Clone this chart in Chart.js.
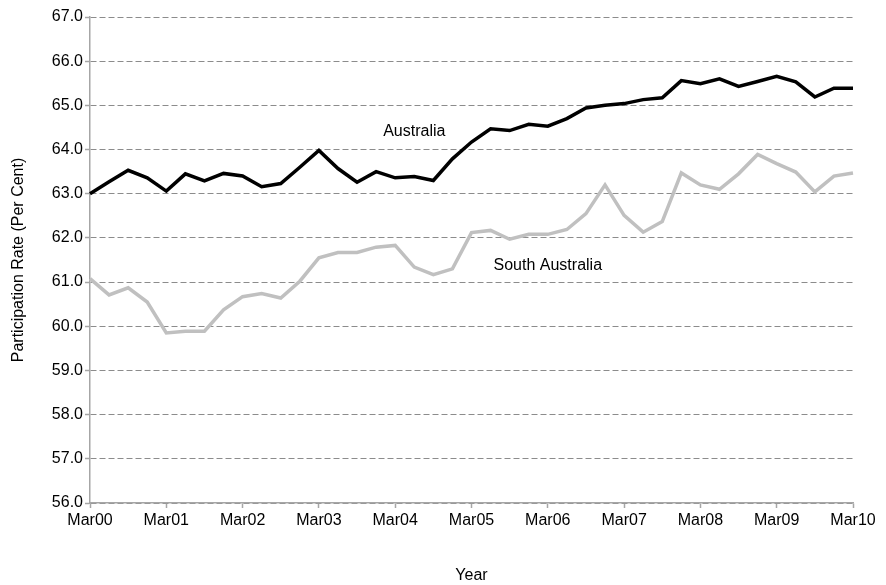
<!DOCTYPE html>
<html>
<head>
<meta charset="utf-8">
<script src="https://cdn.jsdelivr.net/npm/chart.js@4/dist/chart.umd.min.js"></script>
<style>
  html, body { margin: 0; padding: 0; background: #ffffff; }
  #wrap { width: 886px; height: 585px; position: relative; }
</style>
</head>
<body>
<div id="wrap"><canvas id="c" width="886" height="585"></canvas></div>
<script>
// ---- data ----
const years = ['00','01','02','03','04','05','06','07','08','09','10'];
const quarters = ['Mar','Jun','Sep','Dec'];
const categories = [];
years.forEach(y => quarters.forEach(q => { if (!(y === '10' && q !== 'Mar')) categories.push(q + y); }));

const australia = [
  63.00, 63.27, 63.53, 63.36, 63.06, 63.45, 63.29, 63.46, 63.40, 63.16,
  63.23, 63.60, 63.98, 63.57, 63.26, 63.50, 63.36, 63.39, 63.30, 63.79,
  64.17, 64.47, 64.43, 64.57, 64.53, 64.70, 64.94, 65.00, 65.04, 65.13,
  65.17, 65.56, 65.49, 65.60, 65.43, 65.54, 65.66, 65.53, 65.19, 65.39,
  65.39
];
const southAustralia = [
  61.08, 60.71, 60.87, 60.55, 59.85, 59.89, 59.89, 60.37, 60.67, 60.74,
  60.64, 61.02, 61.55, 61.67, 61.67, 61.79, 61.83, 61.34, 61.17, 61.30,
  62.12, 62.17, 61.97, 62.08, 62.08, 62.19, 62.55, 63.20, 62.51, 62.13,
  62.37, 63.47, 63.20, 63.10, 63.45, 63.89, 63.68, 63.49, 63.04, 63.40,
  63.47
];
const yTicks = [56, 57, 58, 59, 60, 61, 62, 63, 64, 65, 66, 67];
const seriesNames = ['Australia', 'South Australia'];
const annotations = [
  { text: 'Australia', at: 'Jun04', value: 64.40 },
  { text: 'South Australia', at: 'Mar06', value: 61.37 }
];

// ---- chart ----
const FONT = "'Liberation Sans', Arial, sans-serif";
const GRID = '#8c8c8c';
const AXIS = '#a6a6a6';

const labelPlugin = {
  id: 'seriesLabels',
  afterDatasetsDraw(chart) {
    const {ctx, scales: {x, y}} = chart;
    ctx.save();
    ctx.font = '16px ' + FONT;
    ctx.fillStyle = '#000';
    ctx.textAlign = 'center';
    ctx.textBaseline = 'middle';
    annotations.forEach(a => {
      ctx.fillText(a.text, x.getPixelForValue(categories.indexOf(a.at)), y.getPixelForValue(a.value));
    });
    ctx.restore();
  }
};

new Chart(document.getElementById('c'), {
  type: 'line',
  data: {
    labels: categories,
    datasets: [
      { label: seriesNames[0], data: australia, borderColor: '#000000', backgroundColor: '#000000',
        borderWidth: 3.5, pointRadius: 0, tension: 0, borderJoinStyle: 'miter', borderCapStyle: 'butt' },
      { label: seriesNames[1], data: southAustralia, borderColor: '#c0c0c0', backgroundColor: '#c0c0c0',
        borderWidth: 3.5, pointRadius: 0, tension: 0, borderJoinStyle: 'miter', borderCapStyle: 'butt' }
    ]
  },
  options: {
    responsive: false,
    animation: false,
    devicePixelRatio: 1,
    layout: { padding: { left: 0, right: 33, top: 17, bottom: 0 } },
    plugins: { legend: { display: false }, tooltip: { enabled: false } },
    scales: {
      x: {
        type: 'category',
        offset: false,
        grid: {
          drawOnChartArea: false, drawTicks: true, tickLength: 5,
          tickColor: (c) => (c.tick && String(categories[c.index]).startsWith('Mar')) ? AXIS : 'rgba(0,0,0,0)',
          tickWidth: 1.5
        },
        border: { display: true, color: AXIS, width: 1.5 },
        ticks: {
          autoSkip: false, maxRotation: 0, minRotation: 0, padding: 3,
          color: '#000', font: { family: FONT, size: 16 },
          callback: function (v, i) { const l = categories[i]; return l.startsWith('Mar') ? l : ''; }
        },
        title: { display: true, text: 'Year', color: '#000', font: { family: FONT, size: 16 }, padding: { top: 0, bottom: 0 } },
        afterFit: (s) => { s.height = 82; }
      },
      y: {
        min: yTicks[0], max: yTicks[yTicks.length - 1],
        afterBuildTicks: (s) => { s.ticks = yTicks.map(v => ({ value: v })); },
        grid: { color: GRID, lineWidth: 1, drawTicks: true, tickLength: 5, tickColor: AXIS, tickWidth: 1.5 },
        border: { display: true, color: AXIS, width: 1.5, dash: [6, 3] },
        ticks: { padding: 2, color: '#000', font: { family: FONT, size: 16 }, callback: (v) => Number(v).toFixed(1) },
        title: { display: true, text: 'Participation Rate (Per Cent)', color: '#000', font: { family: FONT, size: 16 }, padding: { top: 9, bottom: 0 } },
        afterFit: (s) => { s.width = 90; }
      }
    }
  },
  plugins: [labelPlugin]
});
</script>
</body>
</html>
